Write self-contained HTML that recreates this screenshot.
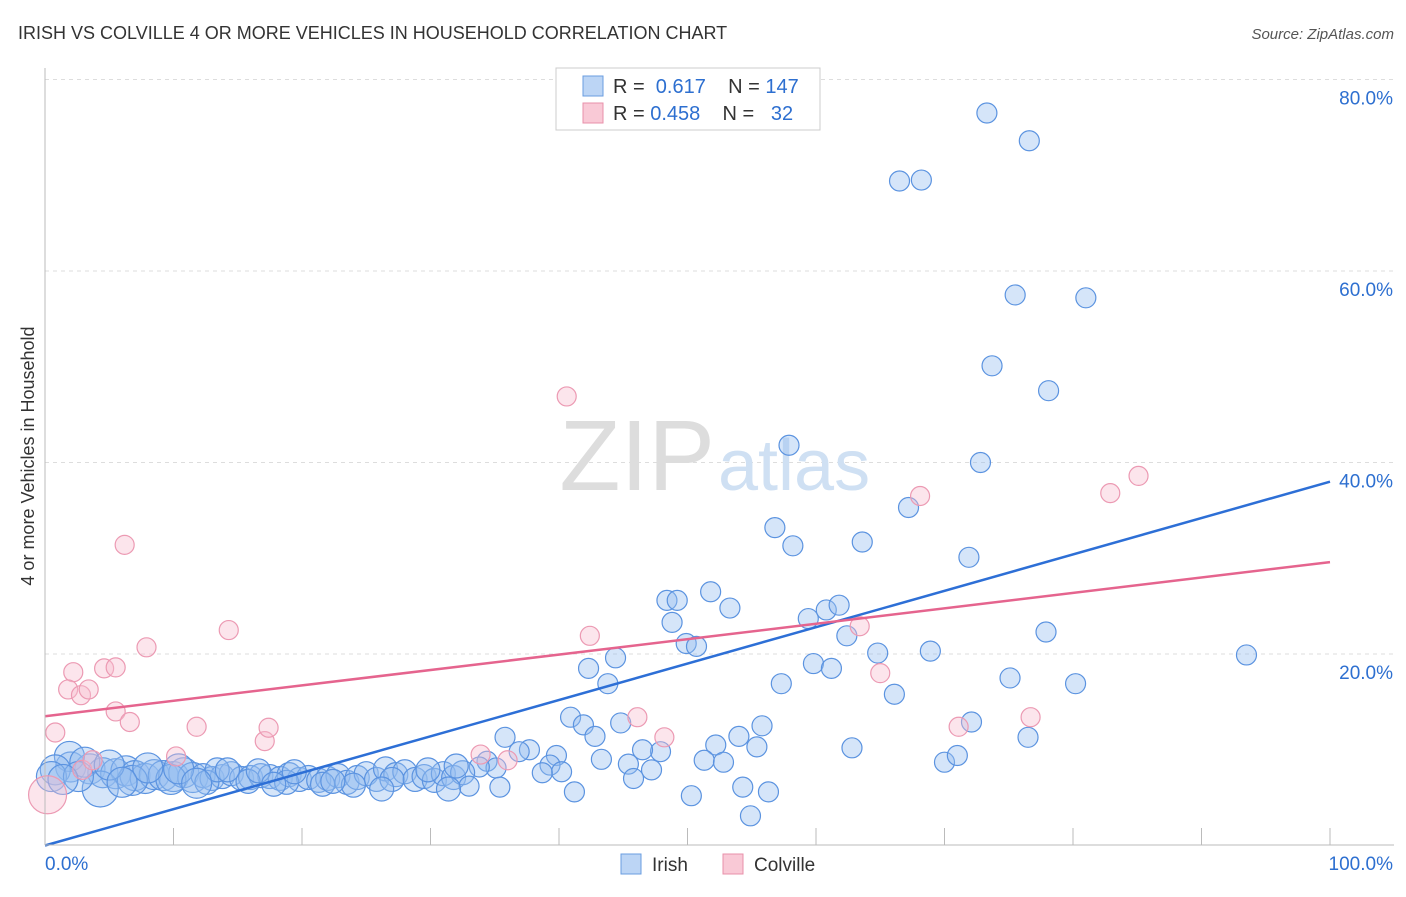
<!DOCTYPE html>
<html><head><meta charset="utf-8"><style>
body{margin:0;background:#fff;font-family:"Liberation Sans",sans-serif;}
svg text{font-family:"Liberation Sans",sans-serif;}
</style></head><body>
<svg id="chart" width="1406" height="892" xmlns="http://www.w3.org/2000/svg">
<text x="18" y="39" font-size="18" fill="#333">IRISH VS COLVILLE 4 OR MORE VEHICLES IN HOUSEHOLD CORRELATION CHART</text>
<text x="1394" y="39" font-size="15" fill="#555" text-anchor="end" font-style="italic">Source: ZipAtlas.com</text>
<text transform="translate(34,456) rotate(-90)" font-size="18" fill="#333" text-anchor="middle">4 or more Vehicles in Household</text>
<g id="grid"></g>
<text x="715" y="490" font-size="100" fill="#ddd" text-anchor="end" font-family="Liberation Serif">ZIP</text>
<text x="718" y="490" font-size="72" fill="#cfe0f3">atlas</text>
<g id="pts"></g>
<g id="lines"></g>
<g id="axes"></g>
<g>
<rect x="556" y="68" width="264" height="62" fill="#fff" stroke="#ccc"/>
<rect x="583" y="76" width="20" height="20" fill="#bcd5f5" stroke="#6a9de0"/>
<rect x="583" y="103" width="20" height="20" fill="#f9c9d6" stroke="#e890aa"/>
<text x="613" y="93" font-size="20" fill="#333">R = <tspan fill="#2d6fd0">&#160;0.617</tspan>&#160;&#160;&#160; N = <tspan fill="#2d6fd0">147</tspan></text>
<text x="613" y="120" font-size="20" fill="#333">R = <tspan fill="#2d6fd0">0.458</tspan>&#160;&#160;&#160; N = <tspan fill="#2d6fd0">&#160;&#160;32</tspan></text>
</g>
<g>
<rect x="621" y="854" width="20" height="20" fill="#bcd5f5" stroke="#6a9de0"/>
<text x="652" y="871" font-size="19" fill="#333">Irish</text>
<rect x="723" y="854" width="20" height="20" fill="#f9c9d6" stroke="#e890aa"/>
<text x="754" y="871" font-size="19" fill="#333">Colville</text>
</g>
</svg>
<script>
const yTicks=[20,40,60,80];
const xTickLabels=["0.0%","100.0%"];
const irish=[[73.3,76.5],[76.6,73.6],[66.5,69.4],[68.2,69.5],[75.5,57.5],[81.0,57.2],[73.7,50.1],[78.1,47.5],[57.9,41.8],[72.8,40.0],[67.2,35.3],[56.8,33.2],[58.2,31.3],[63.6,31.7],[71.9,30.1],[51.8,26.5],[48.4,25.6],[49.2,25.6],[53.3,24.8],[48.8,23.3],[59.4,23.7],[60.8,24.6],[61.8,25.1],[62.4,21.9],[77.9,22.3],[49.9,21.1],[50.7,20.8],[64.8,20.1],[68.9,20.3],[93.5,19.9],[44.4,19.6],[42.3,18.5],[59.8,19.0],[61.2,18.5],[43.8,16.9],[57.3,16.9],[66.1,15.8],[75.1,17.5],[80.2,16.9],[40.9,13.4],[41.9,12.6],[42.8,11.4],[44.8,12.8],[35.8,11.3],[55.8,12.5],[54.0,11.4],[72.1,12.9],[76.5,11.3],[52.2,10.5],[55.4,10.3],[62.8,10.2],[47.9,9.8],[46.5,10.0],[43.3,9.0],[39.8,9.4],[37.7,10.0],[36.9,9.8],[51.3,8.9],[52.8,8.7],[45.4,8.5],[47.2,7.9],[70.0,8.7],[71.0,9.4],[39.3,8.4],[40.2,7.7],[38.7,7.6],[34.4,8.8],[35.1,8.1],[33.8,8.2],[45.8,7.0],[41.2,5.6],[35.4,6.1],[54.3,6.1],[56.3,5.6],[50.3,5.2],[54.9,3.1],
[2.0,8.2],[3.5,8.0],[4.5,7.6],[5.5,7.5],[6.3,7.8],[7.0,7.3],[7.8,7.0],[8.5,7.4],[9.2,7.3],[10.0,7.2],[10.8,7.6],[11.5,7.1],[12.3,7.3],[13.0,7.0],[13.8,7.2],[14.5,7.5],[15.3,7.0],[16.0,7.1],[16.8,7.3],[17.5,7.2],[18.3,7.0],[19.0,7.4],[19.8,6.9],[20.5,7.1],[21.3,6.8],[22.0,7.0],[22.8,7.3],[23.5,6.6],[24.3,7.1],[25.0,7.5],[25.8,6.9],[26.5,8.0],[27.3,7.4],[28.0,7.7],[28.8,6.9],[29.5,7.2],[30.3,6.8],[31.0,7.5],[31.8,7.1],[32.5,7.6],[1.9,9.3],[3.1,8.7],[0.8,7.9],[4.3,5.9],[0.5,7.2],[6.8,6.8],[9.8,6.9],[12.6,6.6],[15.8,6.7],[18.8,6.6],[21.6,6.4],[24.0,6.3],[27.0,6.9],[29.8,7.9],[32.0,8.3],[33.0,6.2],[31.4,5.9],[26.2,5.9],[22.4,6.7],[19.4,7.7],[16.6,7.8],[13.4,7.9],[10.4,8.0],[8.0,8.1],[5.0,8.4],[2.6,7.2],[1.4,6.9],[6.0,6.6],[11.8,6.5],[14.2,7.9],[17.8,6.4]];
const colville=[[0.2,5.3],[0.8,11.8],[2.2,18.1],[1.8,16.3],[2.8,15.7],[3.4,16.3],[4.6,18.5],[5.5,18.6],[6.2,31.4],[5.5,14.0],[6.6,12.9],[7.9,20.7],[11.8,12.4],[14.3,22.5],[17.1,10.9],[17.4,12.3],[10.2,9.3],[40.6,46.9],[42.4,21.9],[46.1,13.4],[48.2,11.3],[63.4,22.9],[65.0,18.0],[68.1,36.5],[71.1,12.4],[76.7,13.4],[82.9,36.8],[85.1,38.6],[33.9,9.5],[36.0,8.9],[2.9,7.9],[3.7,8.9]];
const irishTrend=[0.0,38.0];
const colvilleTrend=[13.5,29.6];
const X=v=>45+v*12.85, Y=v=>845.5-v*9.575;
const NS="http://www.w3.org/2000/svg";
function mk(tag,attrs,parent){const e=document.createElementNS(NS,tag);for(const k in attrs)e.setAttribute(k,attrs[k]);document.getElementById(parent).appendChild(e);return e;}
yTicks.forEach(t=>{
 const l=mk('line',{x1:45,x2:1394,y1:Y(t),y2:Y(t),stroke:'#ddd','stroke-dasharray':'4,4'},'grid');
 
 
 const tx=mk('text',{x:1393,y:Y(t)+25,'font-size':19,fill:'#2d6fd0','text-anchor':'end'},'grid');
 tx.textContent=t.toFixed(1)+'%';
 
 
});
mk('line',{x1:45,x2:45,y1:68,y2:845,stroke:'#bbb'},'axes');
mk('line',{x1:45,x2:1394,y1:845,y2:845,stroke:'#bbb'},'axes');
for(let i=1;i<=10;i++){const l=mk('line',{x1:X(i*10),x2:X(i*10),y1:828,y2:845,stroke:'#bbb'},'axes');}
const xl0=mk('text',{x:45,y:870,'font-size':19,fill:'#2d6fd0'},'axes');xl0.textContent=xTickLabels[0];


const xl1=mk('text',{x:1393,y:870,'font-size':19,fill:'#2d6fd0','text-anchor':'end'},'axes');xl1.textContent=xTickLabels[1];


irish.forEach((p,i)=>{
 let r=p[0]<33?(p[0]<12?15:12):10;
 if(p[0]==4.3&&p[1]==5.9)r=18;
 const c=mk('circle',{cx:X(p[0]),cy:Y(p[1]),r:r,fill:'rgba(150,190,240,0.4)',stroke:'#5b93e0','stroke-width':1.2},'pts');
 
 
});
colville.forEach(p=>{
 const r=(p[0]==0.2)?19:9.5;
 const c=mk('circle',{cx:X(p[0]),cy:Y(p[1]),r:r,fill:'rgba(248,190,208,0.4)',stroke:'#ec9ab3','stroke-width':1.2},'pts');
 
 
});
const l1=mk('line',{x1:X(0),y1:Y(irishTrend[0]),x2:X(100),y2:Y(irishTrend[1]),stroke:'#2d6fd6','stroke-width':2.5},'lines');


const l2=mk('line',{x1:X(0),y1:Y(colvilleTrend[0]),x2:X(100),y2:Y(colvilleTrend[1]),stroke:'#e5648e','stroke-width':2.5},'lines');


</script>
</body></html>
